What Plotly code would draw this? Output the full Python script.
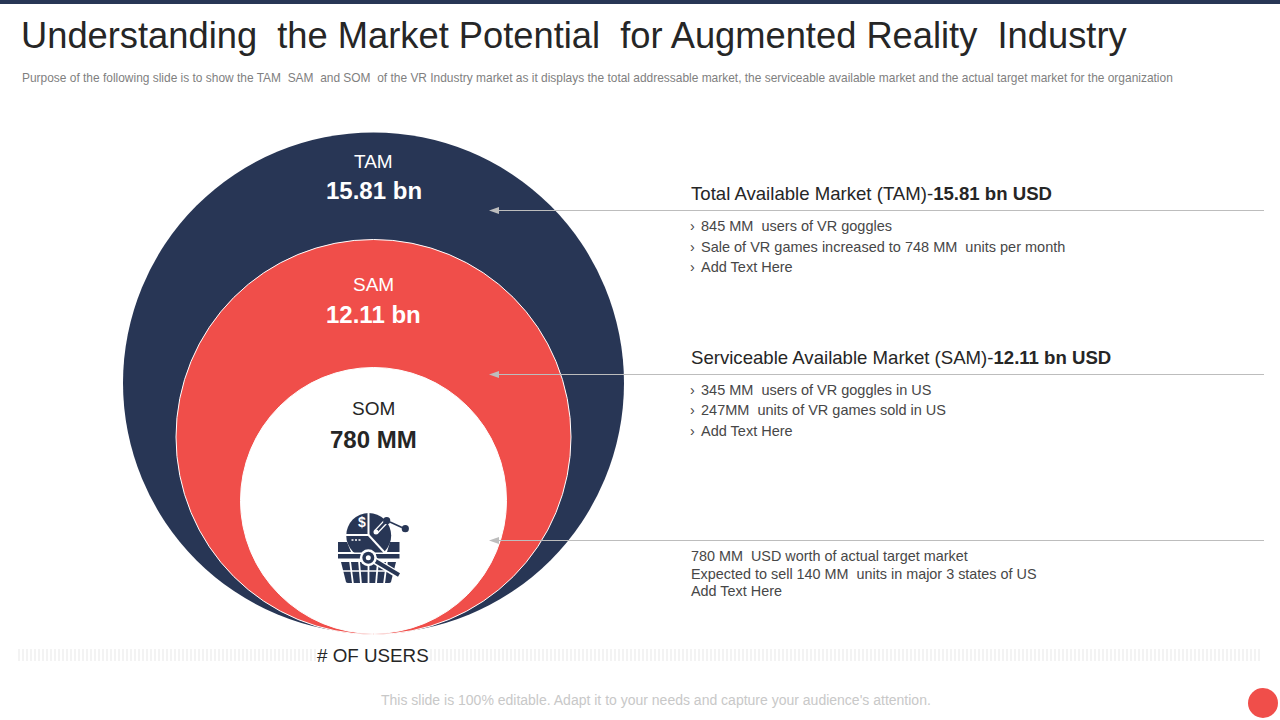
"""Market potential slide: nested TAM / SAM / SOM circles with notes on the right."""
import plotly.graph_objects as go

NAVY = '#283655'
RED = '#f04e4a'
DARK = '#262626'
BODY = '#474747'
FONT = 'Liberation Sans'

segments = ['TAM', 'SAM', 'SOM']
segment_values = ['15.81 bn', '12.11 bn', '780 MM']
segment_colors = [NAVY, RED, '#ffffff']
segment_text_colors = ['#ffffff', '#ffffff', DARK]

tam_heading = 'Total Available Market (TAM)-<b>15.81 bn USD</b>'
tam_notes = ['845 MM  users of VR goggles',
             'Sale of VR games increased to 748 MM  units per month',
             'Add Text Here']
sam_heading = 'Serviceable Available Market (SAM)-<b>12.11 bn USD</b>'
sam_notes = ['345 MM  users of VR goggles in US',
             '247MM  units of VR games sold in US',
             'Add Text Here']
som_notes = ['780 MM  USD worth of actual target market',
             'Expected to sell 140 MM  units in major 3 states of US',
             'Add Text Here']

title = 'Understanding  the Market Potential  for Augmented Reality  Industry'
subtitle = ('Purpose of the following slide is to show the TAM  SAM  and SOM  of the VR Industry '
            'market as it displays the total addressable market, the serviceable available '
            'market and the actual target market for the organization')
footer = "This slide is 100% editable. Adapt it to your needs and capture your audience's attention."

shapes = []
annotations = []


def add_text(x, y, text, size, color=DARK, anchor='left', bg=None):
    annotations.append(dict(
        x=x, y=y, text=text, showarrow=False, xanchor=anchor, yanchor='middle',
        align=anchor, bgcolor=bg, borderpad=0,
        font=dict(family=FONT, size=size, color=color)))


def add_circle(cx, cy, r, color, line=None):
    shapes.append(dict(
        type='circle', x0=cx - r, x1=cx + r, y0=cy - r, y1=cy + r,
        fillcolor=color, line=dict(color=line or color, width=1 if line else 0)))


def add_path(path, fill=None, line=None, width=1):
    shapes.append(dict(
        type='path', path=path, fillcolor=fill or 'rgba(0,0,0,0)',
        line=dict(color=line or 'rgba(0,0,0,0)', width=width if line else 0)))


def add_pointer(y):
    shapes.append(dict(type='line', x0=496, x1=1264, y0=y, y1=y,
                       line=dict(color='#bdbdbd', width=1)))
    add_path('M 489 {0} L 499 {1} L 499 {2} Z'.format(y, y - 3.5, y + 3.5), fill='#bdbdbd')


def add_bullets(rows, notes):
    for y, note in zip(rows, notes):
        add_text(689, y - 0.5, '›', 14.4, color=BODY)
        add_text(700, y, note, 14.5, color=BODY)


def add_icon():
    # dome, split in three pieces by white lines
    add_circle(368.7, 535.5, 22.5, NAVY)
    add_path('M 368.5 512 L 368.5 535 L 345 535', line='#ffffff', width=2)
    add_path('M 368.5 535 L 385 553', line='#ffffff', width=2)
    # basket rim
    add_path('M 338 542 H 347 L 351 552 H 338 Z', fill=NAVY)
    add_path('M 390 542 H 399.5 V 552 H 387 Z', fill=NAVY)
    add_path('M 335 552.5 H 402 V 559 H 335 Z', fill='#ffffff')
    add_path('M 338 554 H 399.5 V 558.5 H 338 Z', fill=NAVY)
    # basket body, white lines cut it into slats
    add_path('M 341 562 H 396 L 391 582 Q 390.5 583 389 583 H 348 Q 346.5 583 346 582 Z', fill=NAVY)
    for x_top, x_bottom in [(350, 353), (359, 361), (368.5, 368.5), (378, 376), (387, 384)]:
        add_path('M {0} 561 L {1} 584'.format(x_top, x_bottom), line='#ffffff', width=1.8)
    add_path('M 340 571 H 398', line='#ffffff', width=1.5)
    # magnifier handle and ring
    add_path('M 372 559 L 400 576', line='#ffffff', width=7)
    add_path('M 372 559 L 399 575', line=NAVY, width=4)
    add_circle(368.3, 557.7, 8.5, '#ffffff')
    add_circle(368.3, 557.7, 6, NAVY)
    add_circle(368.3, 557.7, 2.5, '#ffffff')
    # chart line with nodes
    add_path('M 376 532 L 386.7 520.7', line='#ffffff', width=5)
    add_path('M 376 532 L 386.7 520.7', line=NAVY, width=2.5)
    add_circle(376, 532, 2.5, '#ffffff')
    add_circle(386.7, 520.7, 3.6, NAVY)
    add_path('M 390 522 L 402 527.5', line=NAVY, width=1.6)
    add_circle(405.3, 528.7, 3.6, NAVY)
    add_text(361.5, 522, '<b>$</b>', 14, color='#ffffff', anchor='center')
    for x in [351.5, 355, 358.5]:
        add_path('M {0} 540 H {1}'.format(x, x + 2), line='#ffffff', width=1.5)


# top bar
shapes.append(dict(type='rect', x0=0, x1=1280, y0=0, y1=4, fillcolor=NAVY, line=dict(width=0)))

# striped band under the circles
shapes.append(dict(type='line', x0=18, x1=1262, y0=655, y1=655,
                   line=dict(color='#f3f3f3', width=12, dash='2px,2px')))

# nested circles
add_circle(373.5, 383, 250.5, segment_colors[0])
add_circle(373.5, 437, 197.5, segment_colors[1], line='#ffffff')
add_circle(373.5, 500.5, 133, segment_colors[2], line='#ffffff')

for name, value, color, y_name, y_value in zip(
        segments, segment_values, segment_text_colors, [161, 284, 408], [190.5, 314.5, 439.5]):
    add_text(373.5, y_name, name, 19, color=color, anchor='center')
    add_text(373.5, y_value, '<b>' + value + '</b>', 24, color=color, anchor='center')

add_icon()

for y in [210.5, 374.5, 540.5]:
    add_pointer(y)

add_text(689.5, 193, tam_heading, 18.6)
add_bullets([226, 247, 267], tam_notes)

add_text(689.5, 357, sam_heading, 18.6)
add_bullets([390, 410, 431], sam_notes)

for y, note in zip([556, 574, 591], som_notes):
    add_text(689.5, y, note, 14.4, color=BODY)

add_text(20, 35, title, 36.3)
add_text(20.5, 77.5, subtitle, 11.95, color='#7f7f7f')
add_text(373, 655, '# OF USERS', 18.8, anchor='center', bg='#ffffff')
add_text(656, 700, footer, 14, color='#c8c8c8', anchor='center')

add_circle(1263, 703, 15, RED)

fig = go.Figure()
fig.update_layout(
    width=1280, height=720,
    margin=dict(l=0, r=0, t=0, b=0),
    paper_bgcolor='#ffffff', plot_bgcolor='#ffffff',
    showlegend=False,
    xaxis=dict(range=[0, 1280], visible=False, fixedrange=True),
    yaxis=dict(range=[720, 0], visible=False, fixedrange=True),
    shapes=shapes,
    annotations=annotations)

# the page's default body margin would push the figure 8px in
fig.write_html("out.html", config=dict(displayModeBar=False),
               post_script="document.body.style.margin = '0';")
